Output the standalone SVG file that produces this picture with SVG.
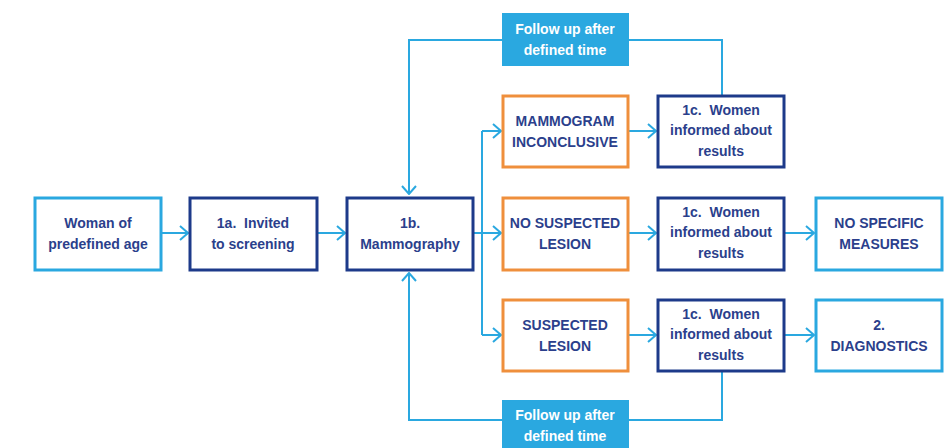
<svg xmlns="http://www.w3.org/2000/svg" width="952" height="448" viewBox="0 0 952 448">
<style>
.lb{fill:#fff;stroke:#2aa8e0;stroke-width:3}
.db{fill:#fff;stroke:#1d3a8a;stroke-width:3}
.or{fill:#fff;stroke:#ef8f3c;stroke-width:3}
.fu{fill:#2aa8e0}
text{font-family:"Liberation Sans",Arial,sans-serif;font-weight:bold;font-size:14px;fill:#2b3f8c;text-anchor:middle;white-space:pre}
.w{fill:#fff}
.c{fill:none;stroke:#2aa8e0;stroke-width:2}
</style>
<defs>
<marker id="ah" viewBox="0 0 10 16" refX="9" refY="8" markerWidth="10" markerHeight="16" markerUnits="userSpaceOnUse" orient="auto">
<path d="M1,1 L9,8 L1,15" fill="none" stroke="#2aa8e0" stroke-width="2"/>
</marker>
</defs>
<g id="connectors">
<path class="c" d="M161,233 H188" marker-end="url(#ah)"/>
<path class="c" d="M317,233 H345" marker-end="url(#ah)"/>
<path class="c" d="M473,233 H482"/>
<path class="c" d="M482,131 V335"/>
<path class="c" d="M482,131 H501" marker-end="url(#ah)"/>
<path class="c" d="M482,233 H501" marker-end="url(#ah)"/>
<path class="c" d="M482,335 H501" marker-end="url(#ah)"/>
<path class="c" d="M628,131 H656" marker-end="url(#ah)"/>
<path class="c" d="M628,233 H656" marker-end="url(#ah)"/>
<path class="c" d="M628,335 H656" marker-end="url(#ah)"/>
<path class="c" d="M784,233 H814" marker-end="url(#ah)"/>
<path class="c" d="M784,335 H814" marker-end="url(#ah)"/>
<path class="c" d="M722,95 V40 H629"/>
<path class="c" d="M502,40 H409 V194" marker-end="url(#ah)"/>
<path class="c" d="M722,371 V420 H629"/>
<path class="c" d="M502,420 H409 V273" marker-end="url(#ah)"/>
</g>
<g id="woman">
<rect class="lb" x="35" y="198" width="126" height="72"/>
<text x="98" y="228">Woman of</text>
<text x="98" y="249">predefined age</text>
</g>
<g id="invited">
<rect class="db" x="190" y="198" width="127" height="72"/>
<text x="253" y="228" xml:space="preserve">1a.  Invited</text>
<text x="253" y="249">to screening</text>
</g>
<g id="mammography">
<rect class="db" x="347" y="198" width="126" height="72"/>
<text x="410" y="228">1b.</text>
<text x="410" y="249">Mammography</text>
</g>
<g id="inconclusive">
<rect class="or" x="503" y="96" width="125" height="71"/>
<text x="565" y="126">MAMMOGRAM</text>
<text x="565" y="147">INCONCLUSIVE</text>
</g>
<g id="nosuspected">
<rect class="or" x="503" y="198" width="125" height="72"/>
<text x="565" y="228">NO SUSPECTED</text>
<text x="565" y="249">LESION</text>
</g>
<g id="suspected">
<rect class="or" x="503" y="300" width="125" height="71"/>
<text x="565" y="330">SUSPECTED</text>
<text x="565" y="351">LESION</text>
</g>
<g id="informed1">
<rect class="db" x="658" y="96" width="126" height="71"/>
<text x="721" y="115" xml:space="preserve">1c.  Women</text>
<text x="721" y="135">informed about</text>
<text x="721" y="156">results</text>
</g>
<g id="informed2">
<rect class="db" x="658" y="198" width="126" height="72"/>
<text x="721" y="217" xml:space="preserve">1c.  Women</text>
<text x="721" y="237">informed about</text>
<text x="721" y="258">results</text>
</g>
<g id="informed3">
<rect class="db" x="658" y="300" width="126" height="71"/>
<text x="721" y="319" xml:space="preserve">1c.  Women</text>
<text x="721" y="339">informed about</text>
<text x="721" y="360">results</text>
</g>
<g id="nospecific">
<rect class="lb" x="816" y="198" width="126" height="72"/>
<text x="879" y="228">NO SPECIFIC</text>
<text x="879" y="249">MEASURES</text>
</g>
<g id="diagnostics">
<rect class="lb" x="816" y="300" width="126" height="71"/>
<text x="879" y="330">2.</text>
<text x="879" y="351">DIAGNOSTICS</text>
</g>
<g id="followup1">
<rect class="fu" x="502" y="13" width="127" height="53"/>
<text class="w" x="565" y="34">Follow up after</text>
<text class="w" x="565" y="55">defined time</text>
</g>
<g id="followup2">
<rect class="fu" x="502" y="400" width="127" height="48"/>
<text class="w" x="565" y="420">Follow up after</text>
<text class="w" x="565" y="441">defined time</text>
</g>
</svg>
